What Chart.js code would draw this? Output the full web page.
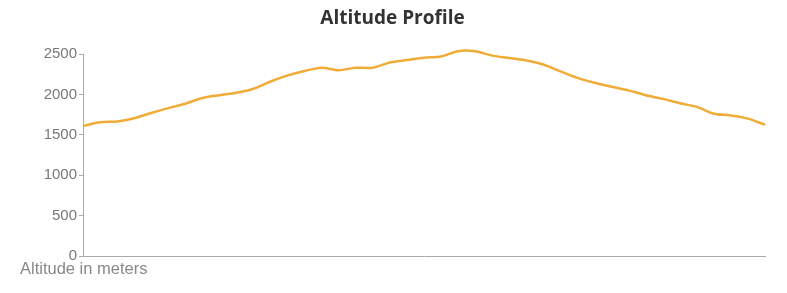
<!DOCTYPE html>
<html>
<head>
<meta charset="utf-8">
<script src="https://cdn.jsdelivr.net/npm/chart.js@4"></script>
<style>
    html, body { margin: 0; padding: 0; background: #fff; }
    #wrap { position: relative; width: 787px; height: 293px; }
    #title {
        position: absolute; left: 0; top: 4px; width: 785px; text-align: center;
        font: bold 19px "Open Sans", sans-serif; color: #333;
    }
    #caption {
        position: absolute; left: 20px; top: 259px;
        font: 16.5px "Liberation Sans", Arial, sans-serif; color: #888;
    }
</style>
</head>
<body>
<div id="wrap">
    <canvas id="altitude-chart" width="787" height="293"></canvas>
    <div id="title">Altitude Profile</div>
    <div id="caption">Altitude in meters</div>
</div>
<script>
// distance along the route (arbitrary units, no labels shown)
const distance = [0, 1, 2, 3, 4, 5, 6, 7, 8, 9, 10, 11, 12, 13, 14, 15, 16, 17, 18, 19, 20,
    21, 22, 23, 24, 25, 26, 27, 28, 29, 30, 31, 32, 33, 34, 35, 36, 37, 38, 39, 40];
const altitude = [1610, 1655, 1665, 1705, 1770, 1830, 1885, 1955, 1990, 2020, 2070,
    2160, 2235, 2290, 2330, 2300, 2330, 2330, 2395, 2425, 2455,
    2470, 2535, 2535, 2480, 2450, 2420, 2370, 2285, 2205, 2145,
    2095, 2050, 1990, 1945, 1890, 1845, 1760, 1740, 1700, 1625];
const yTicks = [0, 500, 1000, 1500, 2000, 2500];

const ctx = document.getElementById('altitude-chart');

new Chart(ctx, {
    type: 'line',
    data: {
        datasets: [{
            label: 'Altitude',
            data: distance.map((d, i) => ({ x: d, y: altitude[i] })),
            borderColor: 'rgb(240, 172, 55)',
            borderWidth: 2.5,
            pointRadius: 0,
            tension: 0.3,
            fill: false,
            clip: 8
        }]
    },
    options: {
        responsive: false,
        animation: false,
        layout: {
            padding: { left: 0, right: 22, top: 54, bottom: 29 }
        },
        plugins: {
            legend: { display: false },
            tooltip: { enabled: false }
        },
        scales: {
            x: {
                type: 'linear',
                min: 0,
                max: 40,
                ticks: { display: false },
                grid: { display: false },
                border: { color: '#aaa', width: 1 }
            },
            y: {
                min: 0,
                max: 2500,
                afterBuildTicks: scale => {
                    scale.ticks = yTicks.map(v => ({ value: v }));
                },
                afterFit: scale => {
                    scale.width = 83;
                },
                ticks: {
                    color: '#777',
                    padding: 2,
                    font: { family: 'Liberation Sans', size: 15 },
                    callback: value => String(value)
                },
                grid: {
                    drawOnChartArea: false,
                    tickLength: 4,
                    color: '#aaa'
                },
                border: { color: '#aaa', width: 1 }
            }
        }
    }
});
</script>
</body>
</html>
